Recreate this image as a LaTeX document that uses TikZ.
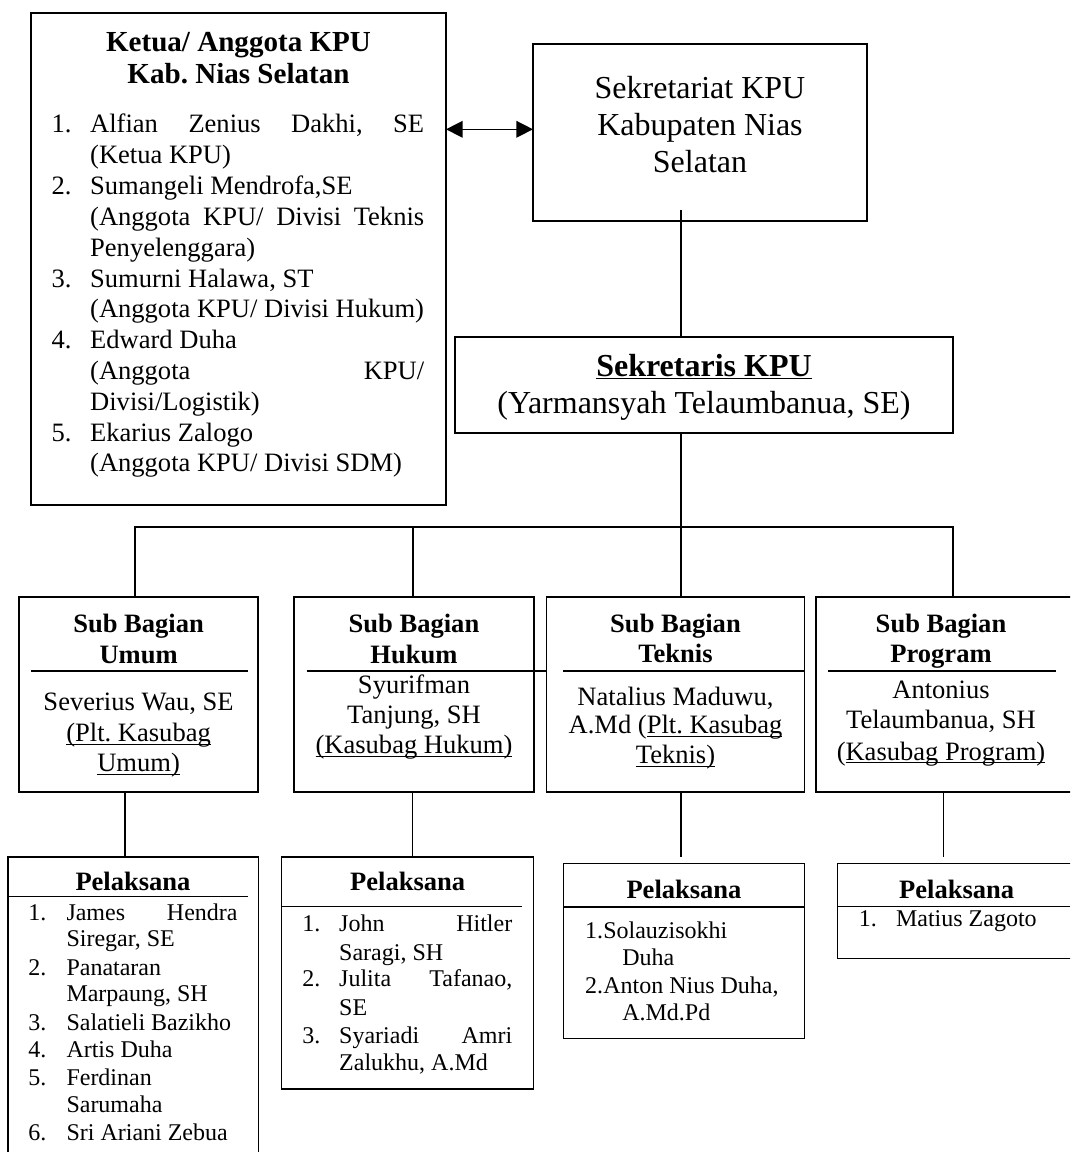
\documentclass[tikz,border=0pt]{standalone}
\usepackage{fontspec}
\setmainfont{Liberation Serif}
\usetikzlibrary{fit,arrows.meta,calc}
\frenchspacing
\newcommand\myul[1]{\setbox0=\hbox{#1}\rlap{\rule[-2.6pt]{\wd0}{0.9pt}}\box0}
\newcommand\fK{\fontsize{19.9pt}{23pt}\selectfont}
\newcommand\fT{\fontsize{21.8pt}{26pt}\selectfont\bfseries}
\newcommand\fS{\fontsize{24pt}{28pt}\selectfont}
\newcommand\fB{\fontsize{19.9pt}{23pt}\selectfont}
\newcommand\fP{\fontsize{18pt}{21pt}\selectfont}
\tikzset{
  box/.style={draw, line width=1pt, inner sep=0pt, outer sep=0pt},
  conn/.style={line width=0.85pt},
  tc/.style={inner sep=0pt, outer sep=0pt, anchor=base},
  tl/.style={inner sep=0pt, outer sep=0pt, anchor=base west},
  dbl/.style={{Triangle[length=12.5pt,width=12.5pt]}-{Triangle[length=12.5pt,width=12.5pt]}}
}
\begin{document}
\begin{tikzpicture}[x=0.75pt,y=-0.75pt]
\clip (0,0) rectangle (1070,1152);
\fill[white] (0,0) rectangle (1070,1152);

% ---------- Ketua box ----------
\node[box, fit={(31,13) (446,505)}] (ketua) {};
\node[tc,font=\fT] (kt1) at (238.5,51.7) {Ketua/ Anggota KPU};
\node[tc,font=\fT] (kt2) at (238.5,83.3) {Kab. Nias Selatan};
\node[tl,font=\fK] (kn1) at (51.7,133) {1.};
\node[tl,font=\fK] (kl1) at (90.2,133) {\makebox[250.5pt][s]{Alfian Zenius Dakhi, SE}};
\node[tl,font=\fK] (kl2) at (90.2,163.8) {(Ketua KPU)};
\node[tl,font=\fK] (kn2) at (51.7,194.6) {2.};
\node[tl,font=\fK] (kl3) at (90.2,194.6) {Sumangeli Mendrofa,SE};
\node[tl,font=\fK] (kl4) at (90.2,225.4) {\makebox[250.5pt][s]{(Anggota KPU/ Divisi Teknis}};
\node[tl,font=\fK] (kl5) at (90.2,256.2) {Penyelenggara)};
\node[tl,font=\fK] (kn3) at (51.7,287) {3.};
\node[tl,font=\fK] (kl6) at (90.2,287) {Sumurni Halawa, ST};
\node[tl,font=\fK] (kl7) at (90.2,317.8) {(Anggota KPU/ Divisi Hukum)};
\node[tl,font=\fK] (kn4) at (51.7,348.6) {4.};
\node[tl,font=\fK] (kl8) at (90.2,348.6) {Edward Duha};
\node[tl,font=\fK] (kl9) at (90.2,379.4) {\makebox[250.5pt][s]{(Anggota KPU/}};
\node[tl,font=\fK] (kl10) at (90.2,410.2) {Divisi/Logistik)};
\node[tl,font=\fK] (kn5) at (51.7,441) {5.};
\node[tl,font=\fK] (kl11) at (90.2,441) {Ekarius Zalogo};
\node[tl,font=\fK] (kl12) at (90.2,471.8) {(Anggota KPU/ Divisi SDM)};

% ---------- Sekretariat ----------
\node[box, fit={(533,44) (867,221)}] (sekr) {};
\node[tc,font=\fS] (st1) at (700,99) {Sekretariat KPU};
\node[tc,font=\fS] (st2) at (700,135.7) {Kabupaten Nias};
\node[tc,font=\fS] (st3) at (700,172.7) {Selatan};

% ---------- Sekretaris ----------
\node[box, fit={(455,337) (953,433)}] (sekrs) {};
\node[tc,font=\fS\bfseries] (ss1) at (704,376) {\myul{Sekretaris KPU}};
\node[tc,font=\fS] (ss2) at (704,413) {(Yarmansyah Telaumbanua, SE)};

% ---------- Sub bagian boxes ----------
\node[box, fit={(19,597) (258,792)}] (umum) {};
\node[box, fit={(294,597) (534,792)}] (hukum) {};
\node[box, fit={(546.5,597) (804.5,792)}] (teknis) {};
\node[box, fit={(816,597) (1090,792)}] (program) {};

\draw[conn] (31,671) -- (248,671);
\draw[conn] (306.5,671) -- (546.5,671);
\draw[conn] (563.4,671) -- (804.5,671);
\draw[conn] (828,671) -- (1055.5,671);

\node[tc,font=\fB\bfseries] (uh1) at (138.6,632) {Sub Bagian};
\node[tc,font=\fB\bfseries] (uh2) at (138.6,663) {Umum};
\node[tc,font=\fB] (ub1) at (138.6,710) {Severius Wau, SE};
\node[tc,font=\fB] (ub2) at (138.6,741.7) {\myul{(Plt. Kasubag}};
\node[tc,font=\fB] (ub3) at (138.6,771.7) {\myul{Umum)}};

\node[tc,font=\fB\bfseries] (hh1) at (414,632) {Sub Bagian};
\node[tc,font=\fB\bfseries] (hh2) at (414,663) {Hukum};
\node[tc,font=\fB] (hb1) at (414,693.3) {Syurifman};
\node[tc,font=\fB] (hb2) at (414,723.3) {Tanjung, SH};
\node[tc,font=\fB] (hb3) at (414,753.3) {\myul{(Kasubag Hukum)}};

\node[tc,font=\fB\bfseries] (th1) at (675.5,632) {Sub Bagian};
\node[tc,font=\fB\bfseries] (th2) at (675.5,662) {Teknis};
\node[tc,font=\fB] (tb1) at (675.5,705) {Natalius Maduwu,};
\node[tc,font=\fB] (tb2) at (675.5,733.3) {A.Md (\myul{Plt. Kasubag}};
\node[tc,font=\fB] (tb3) at (675.5,763.3) {\myul{Teknis)}};

\node[tc,font=\fB\bfseries] (ph1) at (941,632) {Sub Bagian};
\node[tc,font=\fB\bfseries] (ph2) at (941,662) {Program};
\node[tc,font=\fB] (pb1) at (941,698.3) {Antonius};
\node[tc,font=\fB] (pb2) at (941,728.3) {Telaumbanua, SH};
\node[tc,font=\fB] (pb3) at (941,760) {(\myul{Kasubag Program)}};

% ---------- Pelaksana boxes ----------
\node[box, fit={(8,857) (258.3,1170)}] (pumum) {};
\node[box, fit={(281.7,857) (533.7,1089)}] (phukum) {};
\node[box, fit={(563.7,863.3) (804.5,1038.3)}] (pteknis) {};
\node[box, fit={(837.5,863.3) (1090,958.3)}] (pprogram) {};

\draw[conn] (8,896.7) -- (248,896.7);
\draw[conn] (281.7,906.7) -- (521.7,906.7);
\draw[conn] (563.7,907) -- (804.5,907);
\draw[conn] (837.5,906.7) -- (1070,906.7);

\node[tc,font=\fB\bfseries] (pu0) at (133,890) {Pelaksana};
\node[tl,font=\fP] (pun1) at (28.5,920) {1.};
\node[tl,font=\fP] (pul1) at (66.5,920) {\makebox[128.3pt][s]{James Hendra}};
\node[tl,font=\fP] (pul2) at (66.5,946.7) {Siregar, SE};
\node[tl,font=\fP] (pun2) at (28.5,975) {2.};
\node[tl,font=\fP] (pul3) at (66.5,975) {Panataran};
\node[tl,font=\fP] (pul4) at (66.5,1001.7) {Marpaung, SH};
\node[tl,font=\fP] (pun3) at (28.5,1030) {3.};
\node[tl,font=\fP] (pul5) at (66.5,1030) {Salatieli Bazikho};
\node[tl,font=\fP] (pun4) at (28.5,1057.3) {4.};
\node[tl,font=\fP] (pul6) at (66.5,1057.3) {Artis Duha};
\node[tl,font=\fP] (pun5) at (28.5,1085) {5.};
\node[tl,font=\fP] (pul7) at (66.5,1085) {Ferdinan};
\node[tl,font=\fP] (pul8) at (66.5,1112.7) {Sarumaha};
\node[tl,font=\fP] (pun6) at (28.5,1140) {6.};
\node[tl,font=\fP] (pul9) at (66.5,1140) {Sri Ariani Zebua};

\node[tc,font=\fB\bfseries] (ph0) at (407.7,890) {Pelaksana};
\node[tl,font=\fP] (phn1) at (302.3,931.7) {1.};
\node[tl,font=\fP] (phl1) at (339.2,931.7) {\makebox[129.8pt][s]{John Hitler}};
\node[tl,font=\fP] (phl2) at (339.2,960) {Saragi, SH};
\node[tl,font=\fP] (phn2) at (302.3,986.7) {2.};
\node[tl,font=\fP] (phl3) at (339.2,986.7) {\makebox[129.8pt][s]{Julita Tafanao,}};
\node[tl,font=\fP] (phl4) at (339.2,1015) {SE};
\node[tl,font=\fP] (phn3) at (302.3,1043.3) {3.};
\node[tl,font=\fP] (phl5) at (339.2,1043.3) {\makebox[129.8pt][s]{Syariadi Amri}};
\node[tl,font=\fP] (phl6) at (339.2,1070) {Zalukhu, A.Md};

\node[tc,font=\fB\bfseries] (pt0) at (684,898.3) {Pelaksana};
\node[tl,font=\fP] (ptn1) at (585,938.3) {1.};
\node[tl,font=\fP] (ptl1) at (603.3,938.3) {Solauzisokhi};
\node[tl,font=\fP] (ptl2) at (622.3,965) {Duha};
\node[tl,font=\fP] (ptn2) at (585,993.3) {2.};
\node[tl,font=\fP] (ptl3) at (603.3,993.3) {Anton Nius Duha,};
\node[tl,font=\fP] (ptl4) at (622.3,1020) {A.Md.Pd};

\node[tc,font=\fB\bfseries] (pp0) at (956.7,898.3) {Pelaksana};
\node[tl,font=\fP] (ppn1) at (858.9,926.7) {1.};
\node[tl,font=\fP] (ppl1) at (896,926.7) {Matius Zagoto};

% ---------- connectors ----------
\coordinate (ay) at (0,129.3);
\coordinate (trunk) at (681,0);
\coordinate (d1) at (135,527);
\coordinate (d2) at (413,527);
\coordinate (d4) at (953,527);
\coordinate (c1) at (125,0);
\coordinate (c2) at (412.5,0);
\coordinate (c4) at (943.3,0);

\draw[conn, line width=1.1pt, dbl] (ketua.east |- ay) -- (sekr.west |- ay);
\draw[conn] ($(trunk |- sekr.south)+(0,-11)$) -- (trunk |- sekrs.north);
\draw[conn] (trunk |- sekrs.south) -- (trunk |- teknis.north);
\draw[conn] (d1 |- umum.north) -- (d1) -- (d4) -- (d4 |- program.north);
\draw[conn] (d2) -- (d2 |- hukum.north);
\draw[conn] (c1 |- umum.south) -- (c1 |- pumum.north);
\draw[conn] (c2 |- hukum.south) -- (c2 |- phukum.north);
\draw[conn] (trunk |- teknis.south) -- ($(trunk |- pteknis.north)+(0,-6)$);
\draw[conn] (c4 |- program.south) -- ($(c4 |- pprogram.north)+(0,-6)$);
\end{tikzpicture}
\end{document}
